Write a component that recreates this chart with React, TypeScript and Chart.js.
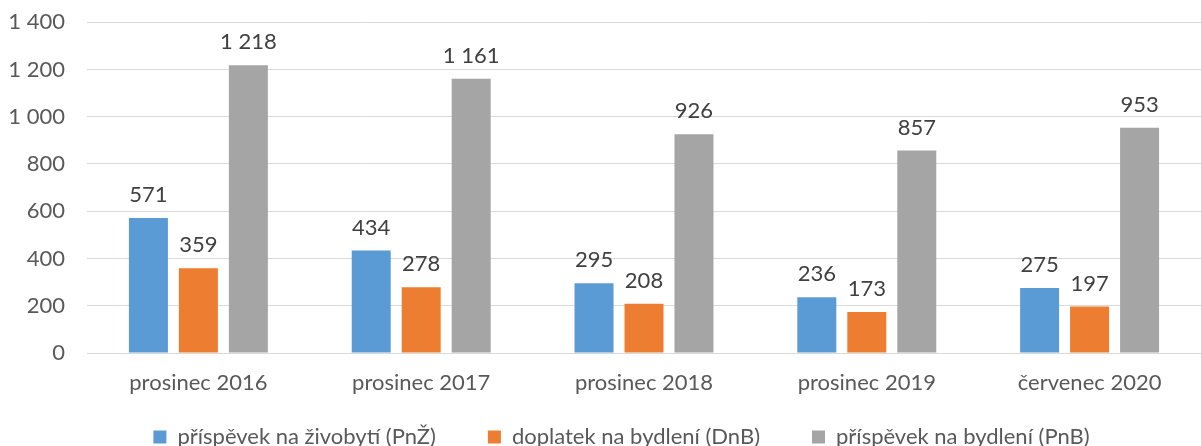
import React, { useEffect, useRef } from "react";
import { Chart, registerables } from "chart.js";

Chart.register(...registerables);

const categories = ["prosinec 2016", "prosinec 2017", "prosinec 2018", "prosinec 2019", "červenec 2020"];
const seriesNames = ["příspěvek na živobytí (PnŽ)", "doplatek na bydlení (DnB)", "příspěvek na bydlení (PnB)"];
const pnz = [571, 434, 295, 236, 275];
const dnb = [359, 278, 208, 173, 197];
const pnb = [1218, 1161, 926, 857, 953];
const colors = ["#5B9BD5", "#ED7D31", "#A5A5A5"];

const FONT = "Lato, 'Open Sans', sans-serif";
const TEXT = "#595959";
const FS = 22;

const fmt = (v: number) => {
  const s = Math.round(v).toString();
  return s.replace(/\B(?=(\d{3})+(?!\d))/g, " ");
};

const labelPlugin = {
  id: "valueLabels",
  afterDatasetsDraw(chart: any) {
    const ctx = chart.ctx;
    ctx.save();
    ctx.font = `${FS}px ${FONT}`;
    ctx.fillStyle = "#404040";
    ctx.textAlign = "center";
    ctx.textBaseline = "middle";
    chart.data.datasets.forEach((ds: any, i: number) => {
      const meta = chart.getDatasetMeta(i);
      meta.data.forEach((bar: any, j: number) => {
        ctx.fillText(fmt(ds.data[j]), bar.x, bar.y - 23);
      });
    });
    ctx.restore();
  },
};

const legendTweak = {
  id: "legendTweak",
  beforeLayout(chart: any) {
    const lg = chart.legend;
    if (!lg || lg.__tweaked) return;
    lg.__tweaked = true;
    const fit = lg.fit;
    lg.fit = function () {
      fit.call(this);
      this.height = 50;
    };
    const draw = lg.draw;
    lg.draw = function () {
      const t = this.top;
      const l = this.left;
      const r = this.right;
      this.top = t - 22;
      this.left = l + 21;
      this.right = r + 21;
      draw.call(this);
      this.top = t;
      this.left = l;
      this.right = r;
    };
  },
};

export default function App() {
  const ref = useRef<HTMLCanvasElement>(null);
  useEffect(() => {
    document.body.style.margin = "0";
    const chart = new Chart(ref.current!, {
      type: "bar",
      data: {
        labels: categories,
        datasets: [pnz, dnb, pnb].map((d, i) => ({
          label: seriesNames[i],
          data: d,
          backgroundColor: colors[i],
          categoryPercentage: 0.673,
          barPercentage: 0.78,
        })),
      },
      options: {
        animation: false,
        responsive: false,
        maintainAspectRatio: false,
        layout: { padding: { top: 0, right: 0, left: 0, bottom: 0 } },
        scales: {
          x: {
            afterFit: (s: any) => { s.height = 43; },
            grid: { display: false, drawTicks: false },
            border: { display: false },
            ticks: { color: TEXT, font: { family: FONT, size: FS }, padding: 17 },
          },
          y: {
            min: 0,
            max: 1400,
            afterFit: (s: any) => { s.width = 87; },
            grid: { color: "#D9D9D9", lineWidth: 1, drawTicks: true, tickLength: 13, tickColor: "rgba(0,0,0,0)" },
            border: { display: false },
            ticks: {
              stepSize: 200,
              color: TEXT,
              font: { family: FONT, size: FS },
              padding: 9,
              callback: (v: any) => fmt(Number(v)),
            },
          },
        },
        plugins: {
          legend: {
            position: "bottom",
            labels: {
              color: TEXT,
              font: { family: FONT, size: FS },
              boxWidth: 13,
              boxHeight: 13,
              padding: 52,
            },
          },
          tooltip: { enabled: false },
        },
      },
      plugins: [labelPlugin, legendTweak],
    });
    return () => chart.destroy();
  }, []);
  return <canvas ref={ref} width={1201} height={446} style={{ display: "block" }} />;
}
